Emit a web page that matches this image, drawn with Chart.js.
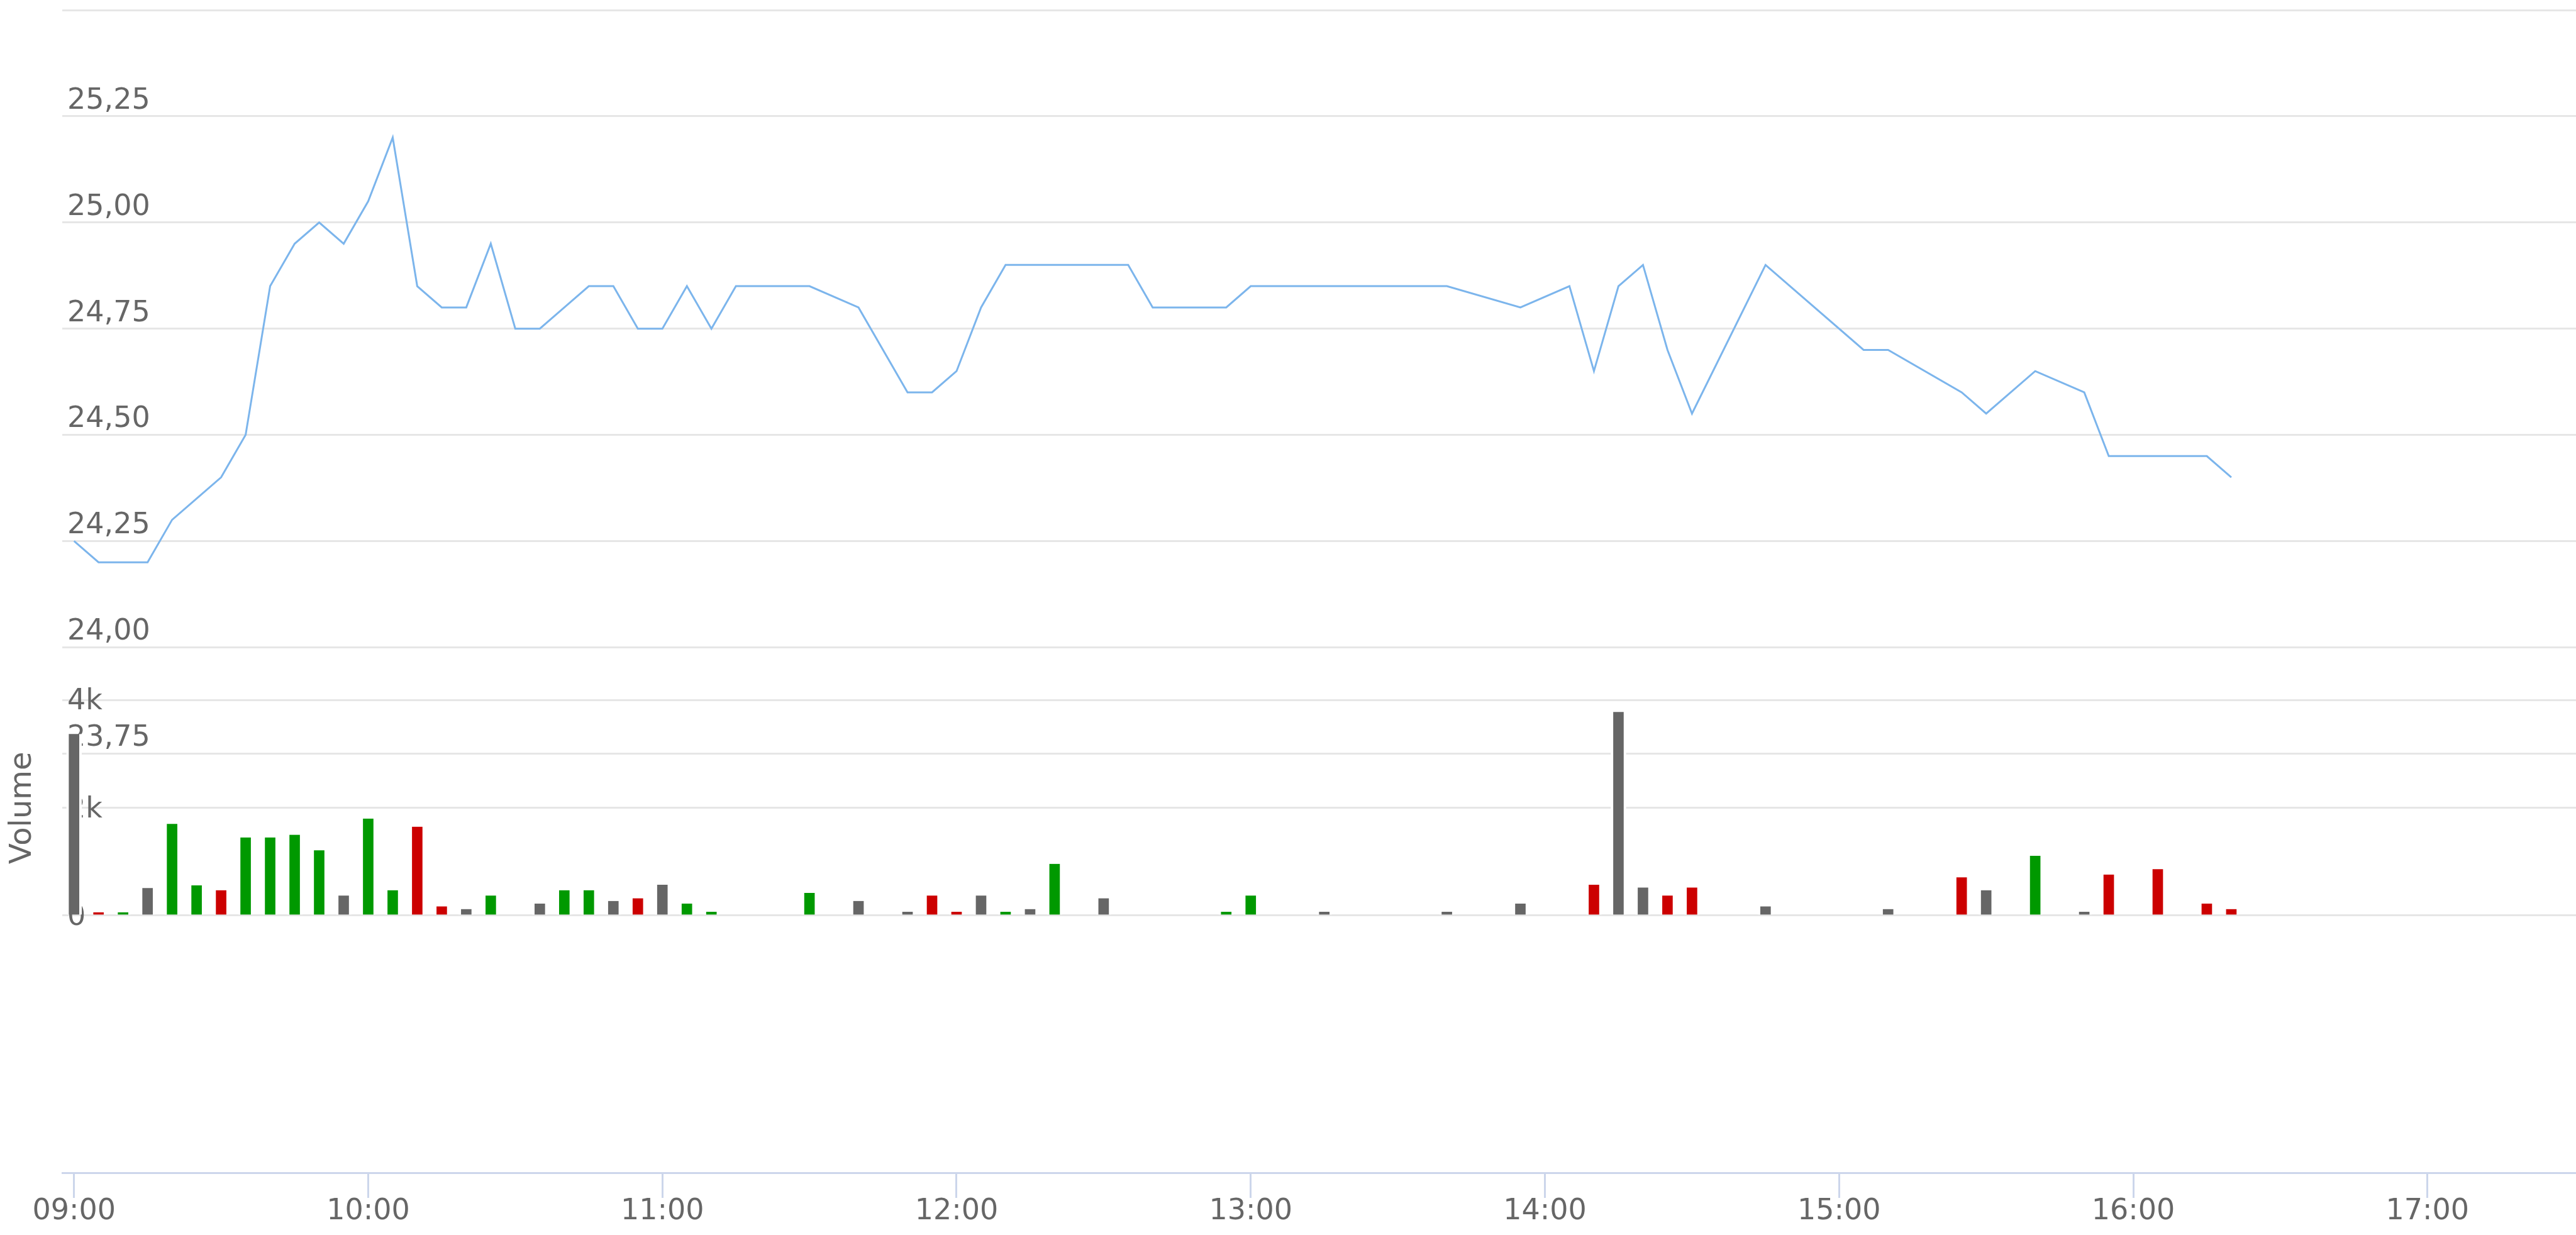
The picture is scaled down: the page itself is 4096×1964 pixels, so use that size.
<!DOCTYPE html>
<html>
<head>
<meta charset="utf-8">
<script src="https://cdn.jsdelivr.net/npm/chart.js@4.4.0/dist/chart.umd.min.js"></script>
<style>
  html, body { margin: 0; padding: 0; background: #fff; }
  canvas { display: block; }
</style>
</head>
<body>
<canvas id="chart" width="4096" height="1964"></canvas>
<script>
// price line, 5 minute slots that traded
const priceTimes = [
  '09:00','09:05','09:10','09:15','09:20','09:25','09:30','09:35','09:40','09:45','09:50','09:55',
  '10:00','10:05','10:10','10:15','10:20','10:25','10:30','10:35','10:40','10:45','10:50','10:55',
  '11:00','11:05','11:10','11:15','11:30','11:40','11:50','11:55',
  '12:00','12:05','12:10','12:15','12:20','12:30','12:35','12:40','12:55',
  '13:00','13:15','13:40','13:55',
  '14:05','14:10','14:15','14:20','14:25','14:30','14:45',
  '15:05','15:10','15:25','15:30','15:40','15:50','15:55',
  '16:05','16:15','16:20'
];
const prices = [
  24.25, 24.20, 24.20, 24.20, 24.30, 24.35, 24.40, 24.50, 24.85, 24.95, 25.00, 24.95,
  25.05, 25.20, 24.85, 24.80, 24.80, 24.95, 24.75, 24.75, 24.80, 24.85, 24.85, 24.75,
  24.75, 24.85, 24.75, 24.85, 24.85, 24.80, 24.60, 24.60,
  24.65, 24.80, 24.90, 24.90, 24.90, 24.90, 24.90, 24.80, 24.80,
  24.85, 24.85, 24.85, 24.80,
  24.85, 24.65, 24.85, 24.90, 24.70, 24.55, 24.90,
  24.70, 24.70, 24.60, 24.55, 24.65, 24.60, 24.45,
  24.45, 24.45, 24.40
];

// volume bars
const volumeTimes = [
  '09:00','09:05','09:10','09:15','09:20','09:25','09:30','09:35','09:40','09:45','09:50','09:55',
  '10:00','10:05','10:10','10:15','10:20','10:25',
  '10:35','10:40','10:45','10:50','10:55',
  '11:00','11:05','11:10','11:30','11:40','11:50','11:55',
  '12:00','12:05','12:10','12:15','12:20','12:30','12:55',
  '13:00','13:15','13:40','13:55',
  '14:10','14:15','14:20','14:25','14:30','14:45',
  '15:10','15:25','15:30','15:40','15:50','15:55',
  '16:05','16:15','16:20'
];
const volumes = [
  3370, 60, 60, 510, 1700, 560, 470, 1450, 1450, 1500, 1210, 370,
  1800, 470, 1650, 170, 120, 370,
  220, 470, 470, 270, 320,
  570, 220, 70, 420, 270, 70, 370,
  70, 370, 70, 120, 960, 320, 70,
  370, 70, 70, 220,
  570, 3780, 520, 370, 520, 170,
  120, 710, 470, 1110, 70, 760,
  860, 220, 120
];
// u = up, d = down, n = neutral
const volumeSides = [
  'n','d','u','n','u','u','d','u','u','u','u','n',
  'u','u','d','d','n','u',
  'n','u','u','n','d',
  'n','u','u','u','n','n','d',
  'd','n','u','n','u','n','u',
  'u','n','n','n',
  'd','n','n','d','d','n',
  'n','d','n','u','n','d',
  'd','d','d'
];

const hourTicks = ['09:00','10:00','11:00','12:00','13:00','14:00','15:00','16:00','17:00'];
const priceTicks = [23.75, 24.00, 24.25, 24.50, 24.75, 25.00, 25.25, 25.50];
const volumeTicks = [0, 2000, 4000];

const FONT = 'DejaVu Sans';
const TEXT = '#666666';
const GRID = '#e6e6e6';
const AXIS = '#ccd6eb';
const sideColors = { u: '#009900', d: '#cc0000', n: '#666666' };

function toMinutes(s) {
  const [h, m] = s.split(':').map(Number);
  return h * 60 + m;
}
function toHHMM(v) {
  const h = Math.floor(v / 60), m = Math.round(v % 60);
  return String(h).padStart(2, '0') + ':' + String(m).padStart(2, '0');
}

// y axes sit inside the plot: no width, no label padding
function flatAxis(s) {
  s.width = 0;
  s.paddingTop = 0;
  s.paddingBottom = 0;
}

Chart.defaults.font.family = FONT;

// rotated "Volume" title, centred on the volume pane
const volumeTitle = {
  id: 'volumeTitle',
  afterDraw(chart) {
    const { ctx } = chart;
    const vol = chart.scales.volume;
    const y = (vol.getPixelForValue(volumeTicks[0]) + vol.getPixelForValue(volumeTicks[2])) / 2;
    ctx.save();
    ctx.translate(48.5, y);
    ctx.rotate(-Math.PI / 2);
    ctx.font = '48px "' + FONT + '"';
    ctx.fillStyle = TEXT;
    ctx.textAlign = 'center';
    ctx.textBaseline = 'alphabetic';
    ctx.fillText('Volume', 0, 0);
    ctx.restore();
  }
};

const labelFont = { family: FONT, size: 46, lineHeight: 1 };

new Chart(document.getElementById('chart'), {
  type: 'bar',
  data: {
    datasets: [
      {
        type: 'line',
        data: priceTimes.map((t, i) => ({ x: toMinutes(t), y: prices[i] })),
        yAxisID: 'price',
        borderColor: '#7cb5ec',
        borderWidth: 3,
        pointRadius: 0,
        tension: 0,
        fill: false,
        order: 0
      },
      {
        type: 'bar',
        data: volumeTimes.map((t, i) => ({ x: toMinutes(t), y: volumes[i] })),
        yAxisID: 'volume',
        backgroundColor: volumeSides.map(s => sideColors[s]),
        borderColor: '#ffffff',
        borderWidth: { left: 4, right: 4, top: 0, bottom: 0 },
        barThickness: 24,
        order: 1
      }
    ]
  },
  options: {
    responsive: false,
    animation: false,
    devicePixelRatio: 1,
    layout: { padding: { left: 99, right: 0, top: 12, bottom: 15 } },
    plugins: { legend: { display: false }, tooltip: { enabled: false } },
    scales: {
      x: {
        type: 'linear',
        min: 537.6,
        max: 1050.3,
        offset: false,
        afterBuildTicks: s => { s.ticks = hourTicks.map(t => ({ value: toMinutes(t) })); },
        ticks: {
          autoSkip: false,
          maxRotation: 0,
          padding: -1,
          color: TEXT,
          font: labelFont,
          callback: v => toHHMM(v)
        },
        grid: { offset: false, drawOnChartArea: false, drawTicks: true, tickLength: 40, color: AXIS, lineWidth: 3 },
        border: { display: true, color: AXIS, width: 3 }
      },
      price: {
        type: 'linear',
        position: 'left',
        min: 22.7627,
        max: 25.506,
        afterFit: flatAxis,
        afterBuildTicks: s => { s.ticks = priceTicks.map(v => ({ value: v })); },
        ticks: {
          autoSkip: false,
          mirror: true,
          padding: 8,
          labelOffset: -24,
          color: TEXT,
          font: labelFont,
          // top line has no room for its label
          callback: v => v >= 25.5 ? '' : v.toFixed(2).replace('.', ',')
        },
        grid: { color: GRID, lineWidth: 3, drawTicks: false },
        border: { display: false }
      },
      volume: {
        type: 'linear',
        position: 'left',
        min: -4777,
        max: 16862,
        afterFit: flatAxis,
        afterBuildTicks: s => { s.ticks = volumeTicks.map(v => ({ value: v })); },
        ticks: {
          autoSkip: false,
          mirror: true,
          padding: 8,
          labelOffset: 3,
          color: TEXT,
          font: labelFont,
          callback: v => v === 0 ? '0' : (v / 1000) + 'k'
        },
        grid: { color: GRID, lineWidth: 3, drawTicks: false },
        border: { display: false }
      }
    }
  },
  plugins: [volumeTitle]
});
</script>
</body>
</html>
